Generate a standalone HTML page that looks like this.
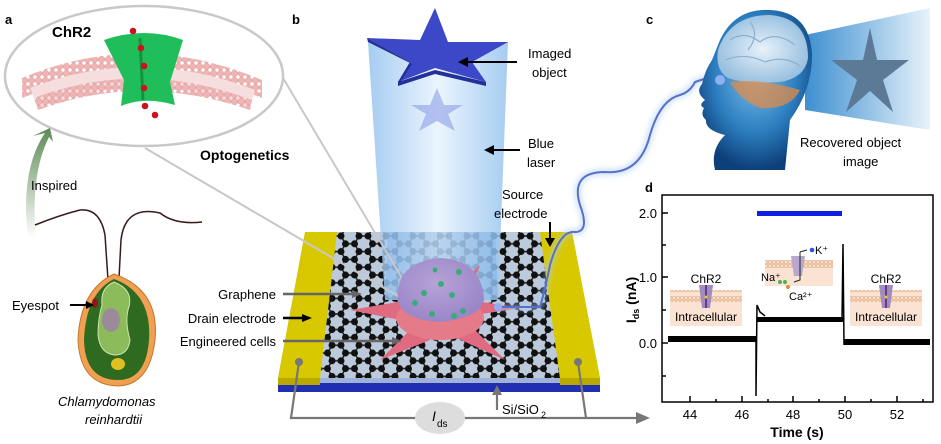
<!DOCTYPE html>
<html><head><meta charset="utf-8"><style>
html,body{margin:0;padding:0;background:#fff}
svg{display:block;font-family:"Liberation Sans",Arial,sans-serif}
</style></head><body>
<svg width="941" height="444" viewBox="0 0 941 444" xmlns="http://www.w3.org/2000/svg">
<defs>
<linearGradient id="beam" x1="0" y1="0" x2="1" y2="0">
<stop offset="0" stop-color="#8fc0ee"/><stop offset="0.5" stop-color="#e6f2fd"/><stop offset="1" stop-color="#8fc0ee"/></linearGradient>
<linearGradient id="cone" x1="0" y1="0" x2="1" y2="0">
<stop offset="0" stop-color="#3d8fd0"/><stop offset="1" stop-color="#e8f3fb"/></linearGradient>
<radialGradient id="head" cx="0.5" cy="0.4" r="0.6">
<stop offset="0" stop-color="#7fc0ea"/><stop offset="0.6" stop-color="#2d7fc0"/><stop offset="1" stop-color="#0d3f7a"/></radialGradient>
<radialGradient id="brain" cx="0.5" cy="0.5" r="0.6">
<stop offset="0" stop-color="#e8f2fa"/><stop offset="1" stop-color="#8db9dc"/></radialGradient>
<linearGradient id="arrowg" x1="0" y1="1" x2="0" y2="0">
<stop offset="0" stop-color="#fff"/><stop offset="1" stop-color="#5d8a55"/></linearGradient>
<radialGradient id="cellg" cx="0.45" cy="0.4" r="0.6">
<stop offset="0" stop-color="#b7a3d6"/><stop offset="1" stop-color="#9a86c8"/></radialGradient>
<pattern id="hex" width="27" height="15.6" patternUnits="userSpaceOnUse" x="305" y="236">
<g stroke="#222" stroke-width="1.6">
<line x1="0" y1="0" x2="9" y2="0"/><line x1="9" y1="0" x2="13.5" y2="7.8"/><line x1="13.5" y1="7.8" x2="22.5" y2="7.8"/><line x1="22.5" y1="7.8" x2="27" y2="0"/><line x1="22.5" y1="7.8" x2="27" y2="15.6"/><line x1="13.5" y1="7.8" x2="9" y2="15.6"/><line x1="0" y1="15.6" x2="9" y2="15.6"/>
</g>
<g fill="#111"><circle cx="0" cy="0" r="3.5"/><circle cx="9" cy="0" r="3.5"/><circle cx="27" cy="0" r="3.5"/><circle cx="13.5" cy="7.8" r="3.5"/><circle cx="22.5" cy="7.8" r="3.5"/><circle cx="0" cy="15.6" r="3.5"/><circle cx="9" cy="15.6" r="3.5"/><circle cx="27" cy="15.6" r="3.5"/></g>
</pattern>
<pattern id="lip" width="7" height="7" patternUnits="userSpaceOnUse">
<circle cx="3.5" cy="3.5" r="3.3" fill="#f0b4b4" stroke="#d89898" stroke-width="0.5"/></pattern>
<pattern id="lip2" width="4" height="12" patternUnits="userSpaceOnUse">
<circle cx="2" cy="2" r="1.8" fill="none" stroke="#e2a878" stroke-width="0.7"/><circle cx="2" cy="10" r="1.8" fill="none" stroke="#e2a878" stroke-width="0.7"/></pattern>
<filter id="glow"><feGaussianBlur stdDeviation="3"/></filter>
</defs>

<!-- Panel a -->
<text x="5" y="24" font-size="13" font-weight="bold">a</text>
<ellipse cx="144" cy="76" rx="139" ry="70" fill="#fff" stroke="#c8c8c8" stroke-width="2.5"/>
<path d="M22,78 Q140,28 262,80 L262,98 Q140,50 22,98 Z" fill="url(#lip)"/>
<path d="M30,88 Q140,45 255,90 L250,108 Q140,68 38,108 Z" fill="#f6dede"/>
<path d="M34,98 Q140,58 252,100 L250,110 Q140,72 38,110 Z" fill="url(#lip)"/>
<path d="M104,40 Q145,26 183,40 L170,82 L175,105 Q145,96 121,106 L124,80 Z" fill="#1fbe5a"/>
<path d="M140,38 L143,100" stroke="#14933f" stroke-width="3"/>
<g fill="#c8141e"><circle cx="133" cy="31" r="3.3"/><circle cx="141" cy="48" r="3.3"/><circle cx="144" cy="66" r="3.3"/><circle cx="144" cy="88" r="3.3"/><circle cx="145" cy="106" r="3.3"/><circle cx="155" cy="115" r="3.3"/></g>
<text x="52" y="37" font-size="15" font-weight="bold">ChR2</text>
<text x="200" y="160" font-size="14" font-weight="bold">Optogenetics</text>
<path d="M28,238 Q20,170 45,133 L33,136 L50,128 L53,142 L49,137 Q30,175 36,238 Z" fill="url(#arrowg)"/>
<text x="31" y="190" font-size="13">Inspired</text>
<path d="M35,225 Q60,215 80,210 Q100,208 105,235 L108,280" fill="none" stroke="#3a1a1a" stroke-width="1.5"/>
<path d="M202,222 Q175,225 160,213 Q125,205 121,240 L119,278" fill="none" stroke="#3a1a1a" stroke-width="1.5"/>
<path d="M114,274 Q160,290 155,340 Q150,385 118,386 Q80,385 78,340 Q80,290 114,274 Z" fill="#f0a050" stroke="#c07830" stroke-width="1"/>
<path d="M114,279 Q152,293 149,340 Q146,380 118,380 Q85,380 84,340 Q86,293 114,279 Z" fill="#2e6a20"/>
<path d="M114,282 Q135,290 128,310 Q125,322 130,340 Q128,355 115,355 Q100,354 98,335 Q98,318 102,305 Q100,288 114,282Z" fill="#8cbc5a" stroke="#cfe3b2" stroke-width="1"/>
<ellipse cx="111" cy="320" rx="9" ry="12" fill="#9a8a9a"/>
<ellipse cx="118" cy="364" rx="7" ry="6" fill="#e0c020"/>
<ellipse cx="95" cy="303" rx="3" ry="5" fill="#8a1a1a"/>
<text x="12" y="310" font-size="13">Eyespot</text>
<path d="M70,305 L88,305" stroke="#000" stroke-width="2"/><path d="M86,301 L94,305 L86,309Z"/>
<text x="58" y="406" font-size="13" font-style="italic">Chlamydomonas</text>
<text x="85" y="424" font-size="13" font-style="italic">reinhardtii</text>

<!-- Panel b -->
<text x="292" y="24" font-size="13" font-weight="bold">b</text>
<path d="M278,378 L600,378 L600,392 L278,392 Z" fill="#1f2fb0"/>
<path d="M278,378 L600,378 L600,383 L278,383 Z" fill="#9fb3d8"/>
<path d="M305,232 L572,232 L600,378 L278,378 Z" fill="#bccadb"/>
<path d="M337,232 L540,232 L560,378 L320,378 Z" fill="url(#hex)"/>
<path d="M368,42 L508,42 L498,300 L385,300 Z" fill="url(#beam)" opacity="0.8"/>
<path d="M388,232 L495,232 L498,300 L385,300Z" fill="#6aa3e0" opacity="0.3"/>
<polygon points="437,88 444,105 463,105 448,114 455,131 437,121 419,131 426,114 411,105 430,105" fill="#8c9ee8" opacity="0.6"/>
<path d="M305,232 L337,232 L320,378 L278,378 Z" fill="#d8c800"/>
<path d="M278,378 L320,378 L320,385 L278,385 Z" fill="#b8a800"/>
<path d="M540,232 L572,232 L600,378 L560,378 Z" fill="#d8c800"/>
<path d="M560,378 L600,378 L600,385 L560,385Z" fill="#b8a800"/>
<line x1="145" y1="148" x2="408" y2="302" stroke="#c8c8c8" stroke-width="2"/>
<line x1="283" y1="78" x2="412" y2="295" stroke="#c8c8c8" stroke-width="2"/>
<g fill="#e06a80">
<path d="M350,310 L410,300 L400,320Z"/><path d="M380,360 L415,325 L430,340Z"/><path d="M505,360 L465,320 L450,335Z"/><path d="M520,308 L470,300 L475,315Z"/><path d="M480,265 L460,285 L470,290Z"/><path d="M420,270 L430,290 L415,290Z"/>
</g>
<ellipse cx="440" cy="318" rx="44" ry="22" fill="#e57a88"/>
<path d="M398,300 Q395,262 440,258 Q482,260 484,300 Q480,318 440,322 Q402,320 398,300Z" fill="url(#cellg)"/>
<g fill="#3aaa7a"><circle cx="441" cy="284" r="3"/><circle cx="424" cy="293" r="3"/><circle cx="415" cy="303" r="3"/><circle cx="452" cy="295" r="3"/><circle cx="459" cy="272" r="3"/><circle cx="432" cy="314" r="3"/><circle cx="463" cy="311" r="3"/><circle cx="435" cy="270" r="2.5"/><circle cx="454" cy="316" r="3"/></g>
<path d="M498,307 L540,307 Q545,290 550,265 Q560,230 575,232 Q590,232 580,205 Q570,172 605,172 Q640,175 650,135 Q660,100 680,95 Q690,92 695,82 L707,78" fill="none" stroke="#a8ccf5" stroke-width="6" opacity="0.6" filter="url(#glow)"/>
<path d="M498,307 L540,307 Q545,290 550,265 Q560,230 575,232 Q590,232 580,205 Q570,172 605,172 Q640,175 650,135 Q660,100 680,95 Q690,92 695,82 L707,78" fill="none" stroke="#5a70c8" stroke-width="2"/>
<circle cx="498" cy="307" r="4" fill="#8fb0f0"/>
<polygon points="435,8 448,42 508,42 472,62 486,82 435,68 398,82 410,62 367,38 420,40" fill="#3c48c8"/>
<polygon points="367,38 410,62 398,82 398,86 412,64 368,42" fill="#252f9a"/>
<polygon points="486,82 435,70 398,82 398,86 435,74 486,86" fill="#252f9a"/>
<text x="528" y="58" font-size="13">Imaged</text><text x="532" y="77" font-size="13">object</text>
<line x1="517" y1="62" x2="466" y2="62" stroke="#000" stroke-width="2"/><path d="M468,57 L458,62 L468,67Z"/>
<text x="528" y="148" font-size="13">Blue</text><text x="527" y="167" font-size="13">laser</text>
<line x1="520" y1="150" x2="492" y2="150" stroke="#000" stroke-width="2"/><path d="M494,145 L484,150 L494,155Z"/>
<text x="502" y="199" font-size="13">Source</text><text x="494" y="218" font-size="13">electrode</text>
<line x1="550" y1="222" x2="550" y2="240" stroke="#000" stroke-width="2"/><path d="M545,238 L550,247 L555,238Z"/>
<text x="276" y="299" font-size="13" text-anchor="end">Graphene</text>
<text x="276" y="323" font-size="13" text-anchor="end">Drain electrode</text>
<text x="276" y="346" font-size="13" text-anchor="end">Engineered cells</text>
<line x1="283" y1="294" x2="355" y2="294" stroke="#666" stroke-width="2.5"/><path d="M352,290 L362,294 L352,298Z" fill="#666"/>
<line x1="283" y1="318" x2="305" y2="318" stroke="#000" stroke-width="2.5"/><path d="M302,314 L312,318 L302,322Z"/>
<line x1="283" y1="341" x2="395" y2="341" stroke="#666" stroke-width="2.5"/><path d="M392,337 L402,341 L392,345Z" fill="#666"/>
<g stroke="#777" stroke-width="2.2" fill="none"><path d="M299,362 L291,418 L640,418"/><path d="M578,362 L586,418"/><path d="M497,410 L497,393"/></g>
<circle cx="299" cy="362" r="4" fill="#777"/><circle cx="578" cy="362" r="4" fill="#777"/>
<path d="M636,412 L650,418 L636,424Z" fill="#777"/><path d="M492,395 L497,385 L502,395Z" fill="#777"/>
<ellipse cx="440" cy="418" rx="25" ry="16" fill="#ddd"/>
<text x="432" y="421" font-size="14" font-style="italic">I</text><text x="437" y="427" font-size="10">ds</text>
<text x="502" y="414" font-size="13">Si/SiO</text><text x="541" y="418" font-size="9">2</text>

<!-- Panel c -->
<text x="646" y="24" font-size="13" font-weight="bold">c</text>
<path d="M805,35 L930,8 L930,130 L805,110Z" fill="url(#cone)"/>
<polygon points="870,28 877,60 909,60 883,80 893,112 870,91 846,112 857,80 831,60 863,60" fill="#5c7a96"/>
<path d="M720,40 Q735,8 770,10 Q810,12 812,55 Q812,90 790,120 L785,170 L715,170 Q710,150 725,135 Q705,130 706,120 Q700,115 704,108 Q698,105 705,100 Q695,92 702,84 Q705,70 712,60Z" fill="url(#head)"/>
<path d="M718,50 Q730,15 770,15 Q808,18 808,58 Q805,78 780,82 Q745,84 728,78 Q715,70 718,50Z" fill="url(#brain)"/>
<g stroke="#8fb0cc" fill="none" stroke-width="1.2"><path d="M730,40 Q745,30 760,42 Q775,30 795,45"/><path d="M725,60 Q745,52 765,62 Q785,55 800,66"/><path d="M750,22 Q760,35 748,50"/></g>
<path d="M730,82 Q760,78 800,90 Q790,110 760,108 Q740,100 730,82Z" fill="#e88a40" opacity="0.7"/>
<circle cx="720" cy="80" r="5" fill="#8fb0f0"/>
<text x="800" y="147" font-size="13">Recovered object</text>
<text x="843" y="166" font-size="13">image</text>

<!-- Panel d -->
<text x="645" y="192" font-size="13" font-weight="bold">d</text>
<rect x="662" y="195" width="271" height="207" fill="none" stroke="#000" stroke-width="1.5"/>
<g stroke="#000" stroke-width="1.5">
<line x1="662" y1="213" x2="668" y2="213"/><line x1="662" y1="245" x2="666" y2="245"/><line x1="662" y1="277" x2="668" y2="277"/><line x1="662" y1="310" x2="666" y2="310"/><line x1="662" y1="343" x2="668" y2="343"/><line x1="662" y1="376" x2="666" y2="376"/>
<line x1="690" y1="402" x2="690" y2="396"/><line x1="716" y1="402" x2="716" y2="399"/><line x1="742" y1="402" x2="742" y2="396"/><line x1="768" y1="402" x2="768" y2="399"/><line x1="793" y1="402" x2="793" y2="396"/><line x1="819" y1="402" x2="819" y2="399"/><line x1="845" y1="402" x2="845" y2="396"/><line x1="871" y1="402" x2="871" y2="399"/><line x1="897" y1="402" x2="897" y2="396"/><line x1="923" y1="402" x2="923" y2="399"/>
</g>
<g font-size="13" text-anchor="end"><text x="657" y="218">2.0</text><text x="657" y="282">1.0</text><text x="657" y="348">0.0</text></g>
<g font-size="13" text-anchor="middle"><text x="690" y="419">44</text><text x="742" y="419">46</text><text x="793" y="419">48</text><text x="845" y="419">50</text><text x="897" y="419">52</text></g>
<text x="797" y="437" font-size="14" font-weight="bold" text-anchor="middle">Time (s)</text>
<text transform="translate(636,300) rotate(-90)" font-size="14" font-weight="bold" text-anchor="middle">I<tspan font-size="9" dy="3">ds</tspan><tspan dy="-3"> (nA)</tspan></text>
<rect x="757" y="211" width="85" height="5" fill="#1020e0"/>
<rect x="668" y="336" width="88" height="6" fill="#000"/>
<rect x="757" y="317" width="86" height="5" fill="#000"/>
<rect x="844" y="339" width="86" height="6" fill="#000"/>
<path d="M756,340 L756,396 L757,305 L760,312 L765,316" stroke="#000" stroke-width="1.5" fill="none"/>
<path d="M842,320 L843,244 L844,345" stroke="#000" stroke-width="1.5" fill="none"/>
<rect x="670" y="290" width="72" height="36" fill="#fbe3d4"/>
<rect x="670" y="290" width="72" height="12" fill="url(#lip2)"/>
<path d="M699,285 L713,285 L710,308 L702,308Z" fill="#a08cc0"/><line x1="706" y1="285" x2="706" y2="308" stroke="#6a3a8a" stroke-width="2"/><circle cx="706" cy="297" r="1.5" fill="#f0d020"/>
<text x="706" y="283" font-size="12" text-anchor="middle">ChR2</text>
<text x="706" y="321" font-size="12" text-anchor="middle">Intracellular</text>
<rect x="850" y="290" width="72" height="36" fill="#fbe3d4"/>
<rect x="850" y="290" width="72" height="12" fill="url(#lip2)"/>
<path d="M879,285 L893,285 L890,308 L882,308Z" fill="#a08cc0"/><line x1="886" y1="285" x2="886" y2="308" stroke="#6a3a8a" stroke-width="2"/><circle cx="886" cy="297" r="1.5" fill="#f0d020"/>
<text x="886" y="283" font-size="12" text-anchor="middle">ChR2</text>
<text x="886" y="321" font-size="12" text-anchor="middle">Intracellular</text>
<rect x="765" y="260" width="68" height="26" fill="#fbe3d4"/>
<rect x="765" y="260" width="68" height="12" fill="url(#lip2)"/>
<path d="M791,256 L805,256 L802,276 L794,276Z" fill="#b8a8d0"/><path d="M800,252 L800,280 L794,282" stroke="#222" fill="none"/><path d="M800,252 L807,250" stroke="#222"/>
<circle cx="812" cy="250" r="2.3" fill="#3050f0"/><text x="815" y="254" font-size="11">K⁺</text>
<text x="761" y="281" font-size="11">Na⁺</text><circle cx="780" cy="282" r="2" fill="#50b050"/><circle cx="785" cy="282" r="2" fill="#50b050"/><circle cx="788" cy="287" r="2" fill="#f08040"/>
<text x="789" y="300" font-size="11">Ca²⁺</text>
</svg>
</body></html>
